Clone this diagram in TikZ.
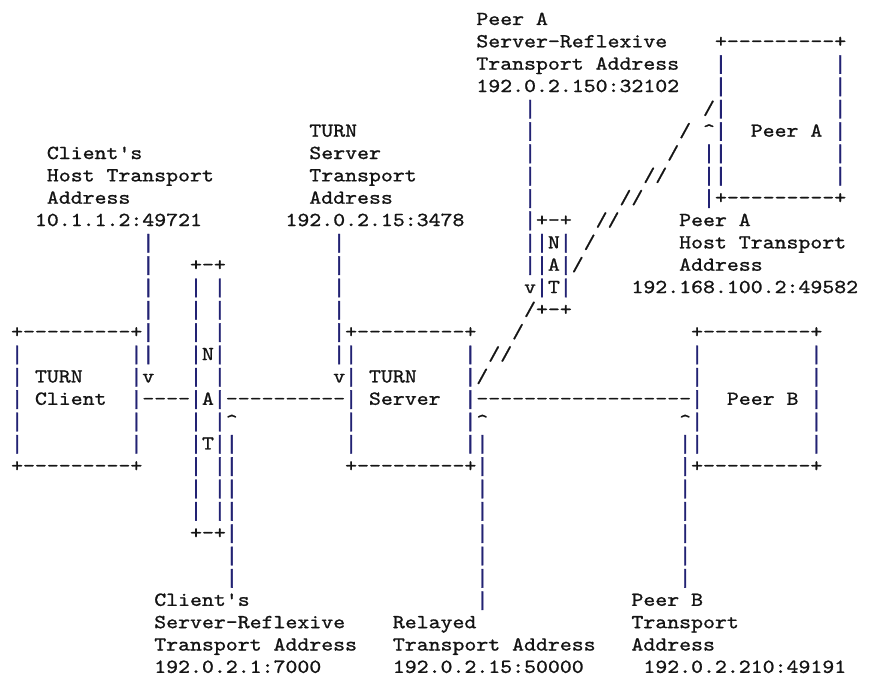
\documentclass[tikz,border=0pt]{standalone}
\usepackage{fontspec}
\setmonofont[FakeStretch=1.143,FakeBold=1]{lmmono10-regular.otf}
\newfontfamily\barfont[FakeBold=1.5]{Liberation Mono}
\definecolor{barblue}{RGB}{34,34,115}
\definecolor{ink}{RGB}{20,20,20}
\tikzset{
  txt/.style={anchor=base west, inner sep=0pt, outer sep=0pt,
    font=\ttfamily\fontsize{19.88pt}{22pt}\selectfont, text=ink},
  barc/.style={txt, font=\barfont\fontsize{19.88pt}{22pt}\selectfont, text=barblue}
}
\newcommand\tx[3]{\node[txt] (t-#1-#2) at ({11.1pt+11.93pt*#1},{-25pt-22.34pt*#2}) {#3};}
\newcommand\bars[3]{\foreach \r in {#2,...,#3} {\node[barc] (b-#1-\r) at ({11.1pt+11.93pt*#1},{-25pt-22.34pt*\r}) {|};}}
\newcommand\up{\textasciicircum}
\begin{document}
\begin{tikzpicture}
\fill[white] (0,0) rectangle (891pt,-698pt);
\useasboundingbox (0,0) rectangle (891pt,-698pt);
% row 0-3
\tx{39}{0}{Peer A}
\tx{39}{1}{Server-Reflexive}
\tx{59}{1}{+---------+}
\tx{39}{2}{Transport Address}
\tx{39}{3}{192.0.2.150:32102}
% rows 4-8
\tx{58}{4}{/}
\tx{25}{5}{TURN}
\tx{56}{5}{/}
\tx{58}{5}{\up}
\tx{62}{5}{Peer A}
\tx{3}{6}{Client's}
\tx{25}{6}{Server}
\tx{55}{6}{/}
\tx{3}{7}{Host Transport}
\tx{25}{7}{Transport}
\tx{53}{7}{//}
\tx{3}{8}{Address}
\tx{25}{8}{Address}
\tx{51}{8}{//}
\tx{59}{8}{+---------+}
% rows 9-13
\tx{2}{9}{10.1.1.2:49721}
\tx{23}{9}{192.0.2.15:3478}
\tx{44}{9}{+-+}
\tx{49}{9}{//}
\tx{56}{9}{Peer A}
\tx{45}{10}{N}
\tx{48}{10}{/}
\tx{56}{10}{Host Transport}
\tx{15}{11}{+-+}
\tx{45}{11}{A}
\tx{47}{11}{/}
\tx{56}{11}{Address}
\tx{43}{12}{v}
\tx{45}{12}{T}
\tx{52}{12}{192.168.100.2:49582}
\tx{43}{13}{/}
\tx{44}{13}{+-+}
% rows 14-20
\tx{0}{14}{+---------+}
\tx{28}{14}{+---------+}
\tx{42}{14}{/}
\tx{57}{14}{+---------+}
\tx{16}{15}{N}
\tx{40}{15}{//}
\tx{2}{16}{TURN}
\tx{11}{16}{v}
\tx{27}{16}{v}
\tx{30}{16}{TURN}
\tx{39}{16}{/}
\tx{2}{17}{Client}
\tx{11}{17}{----}
\tx{16}{17}{A}
\tx{18}{17}{----------}
\tx{30}{17}{Server}
\tx{39}{17}{------------------}
\tx{60}{17}{Peer B}
\tx{18}{18}{\up}
\tx{39}{18}{\up}
\tx{56}{18}{\up}
\tx{16}{19}{T}
\tx{0}{20}{+---------+}
\tx{28}{20}{+---------+}
\tx{57}{20}{+---------+}
\tx{15}{23}{+-+}
% labels bottom
\tx{12}{26}{Client's}
\tx{52}{26}{Peer B}
\tx{12}{27}{Server-Reflexive}
\tx{32}{27}{Relayed}
\tx{52}{27}{Transport}
\tx{12}{28}{Transport Address}
\tx{32}{28}{Transport Address}
\tx{52}{28}{Address}
\tx{12}{29}{192.0.2.1:7000}
\tx{32}{29}{192.0.2.15:50000}
\tx{53}{29}{192.0.2.210:49191}
% vertical bars
\bars{0}{15}{19}
\bars{10}{15}{19}
\bars{11}{10}{15}
\bars{15}{12}{22}
\bars{17}{12}{22}
\bars{18}{19}{25}
\bars{27}{10}{15}
\bars{28}{15}{19}
\bars{38}{15}{19}
\bars{39}{19}{26}
\bars{43}{4}{11}
\bars{44}{10}{12}
\bars{46}{10}{12}
\bars{56}{19}{25}
\bars{57}{15}{19}
\bars{67}{15}{19}
\bars{58}{6}{8}
\bars{59}{2}{7}
\bars{69}{2}{7}
\end{tikzpicture}
\end{document}
